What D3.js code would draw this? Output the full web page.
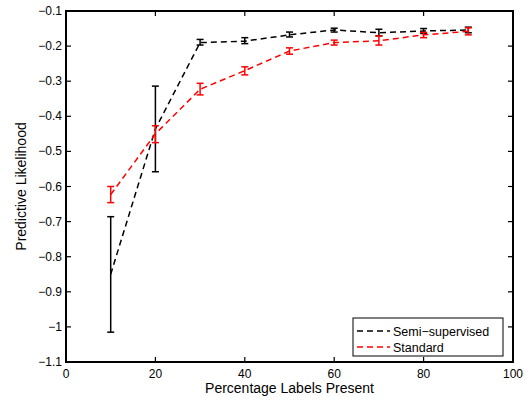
<!DOCTYPE html>
<html><head><meta charset="utf-8">
<script src="https://cdn.jsdelivr.net/npm/d3@7"></script>
<style>body{margin:0;background:#fff}svg{display:block}text{font-family:"Liberation Sans",Arial,sans-serif}</style>
</head><body><svg id="c" width="531" height="401"></svg>
<script>
const xValues = [10,20,30,40,50,60,70,80,90];
const semiMean = [-0.850,-0.436,-0.190,-0.186,-0.168,-0.154,-0.162,-0.157,-0.154];
const semiLow  = [-1.015,-0.558,-0.197,-0.193,-0.174,-0.160,-0.171,-0.164,-0.162];
const semiHigh = [-0.686,-0.314,-0.181,-0.176,-0.160,-0.149,-0.152,-0.150,-0.146];
const stdMean = [-0.623,-0.450,-0.323,-0.270,-0.214,-0.190,-0.185,-0.168,-0.158];
const stdLow  = [-0.646,-0.475,-0.339,-0.282,-0.223,-0.197,-0.197,-0.176,-0.168];
const stdHigh = [-0.600,-0.427,-0.306,-0.259,-0.205,-0.183,-0.171,-0.161,-0.148];
const xTicks = [0,20,40,60,80,100];
const yTicks = [-1.1,-1,-0.9,-0.8,-0.7,-0.6,-0.5,-0.4,-0.3,-0.2,-0.1];
const seriesNames = ["Semi\u2212supervised","Standard"];
const seriesColors = ["#000","#f00"];

const svg = d3.select("#c");
const L=66,R=513,T=11,B=362;
const x = d3.scaleLinear().domain([0,100]).range([L,R]);
const y = d3.scaleLinear().domain([-1.1,-0.1]).range([B,T]);
const fmt = v => { let s = d3.format("")(+v.toFixed(2)); return s.replace("-","\u2212"); };
const tl = 5;
const g = svg.append("g");
xTicks.forEach(t=>{
  g.append("line").attr("x1",x(t)).attr("x2",x(t)).attr("y1",B).attr("y2",B-tl).attr("stroke","#000").attr("stroke-width",1.2);
  g.append("line").attr("x1",x(t)).attr("x2",x(t)).attr("y1",T).attr("y2",T+tl).attr("stroke","#000").attr("stroke-width",1.2);
  g.append("text").attr("x",x(t)).attr("y",B+16).attr("text-anchor","middle").attr("font-size",12).text(fmt(t));
});
yTicks.forEach(t=>{
  g.append("line").attr("x1",L).attr("x2",L+tl).attr("y1",y(t)).attr("y2",y(t)).attr("stroke","#000").attr("stroke-width",1.2);
  g.append("line").attr("x1",R).attr("x2",R-tl).attr("y1",y(t)).attr("y2",y(t)).attr("stroke","#000").attr("stroke-width",1.2);
  g.append("text").attr("x",L-4).attr("y",y(t)+4).attr("text-anchor","end").attr("font-size",12).text(fmt(t));
});
g.append("rect").attr("x",L).attr("y",T).attr("width",R-L).attr("height",B-T).attr("fill","none").attr("stroke","#000").attr("stroke-width",2);

const data = [
  {mean:semiMean,low:semiLow,high:semiHigh},
  {mean:stdMean,low:stdLow,high:stdHigh}
];
const line = d3.line().x((d,i)=>x(xValues[i])).y(d=>y(d));
data.forEach((s,k)=>{
  const c = seriesColors[k];
  svg.append("path").attr("d",line(s.mean)).attr("fill","none").attr("stroke",c).attr("stroke-width",1.5).attr("stroke-dasharray","6,4");
  xValues.forEach((xv,i)=>{
    const cx=x(xv), w=3.5;
    svg.append("line").attr("x1",cx).attr("x2",cx).attr("y1",y(s.low[i])).attr("y2",y(s.high[i])).attr("stroke",c).attr("stroke-width",1.5);
    [s.low[i],s.high[i]].forEach(v=>svg.append("line").attr("x1",cx-w).attr("x2",cx+w).attr("y1",y(v)).attr("y2",y(v)).attr("stroke",c).attr("stroke-width",1.5));
  });
});
svg.append("text").attr("x",(L+R)/2).attr("y",393).attr("text-anchor","middle").attr("font-size",14).text("Percentage Labels Present");
svg.append("text").attr("transform",`translate(26,${(T+B)/2}) rotate(-90)`).attr("text-anchor","middle").attr("font-size",14).text("Predictive Likelihood");
const lg = svg.append("g");
lg.append("rect").attr("x",353).attr("y",318).attr("width",150).attr("height",38).attr("fill","#fff").attr("stroke","#000").attr("stroke-width",1);
seriesNames.forEach((n,k)=>{
  const yy = 331 + k*16;
  lg.append("line").attr("x1",357).attr("x2",390).attr("y1",yy).attr("y2",yy).attr("stroke",seriesColors[k]).attr("stroke-width",1.5).attr("stroke-dasharray","6,4");
  lg.append("text").attr("x",393).attr("y",yy+4.5).attr("font-size",12.5).text(n);
});
</script></body></html>
